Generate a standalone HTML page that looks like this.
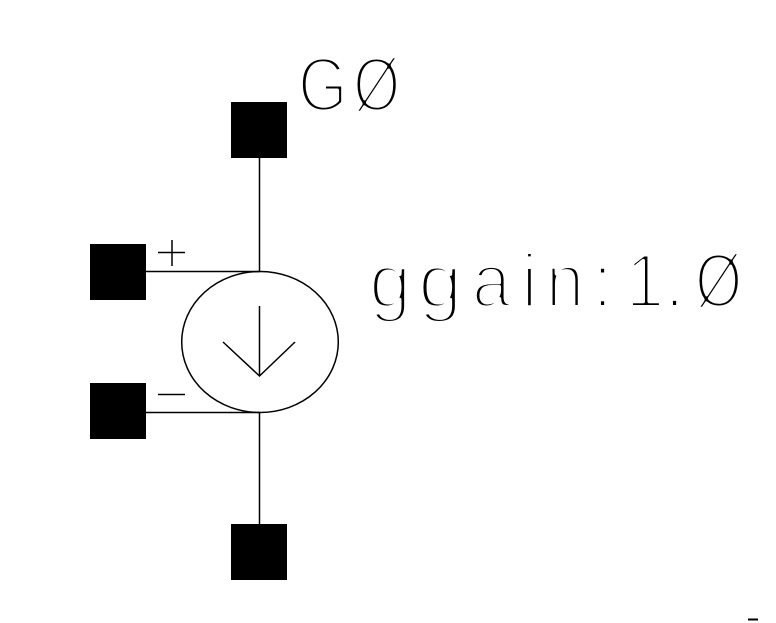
<!DOCTYPE html>
<html><head><meta charset="utf-8"><style>html,body{margin:0;padding:0;background:#fff}svg{display:block}</style></head>
<body><svg width="776" height="623" viewBox="0 0 776 623" xmlns="http://www.w3.org/2000/svg">
<rect width="776" height="623" fill="#fff"/>
<g fill="#000">
<rect x="231" y="102" width="56" height="56"/>
<rect x="90" y="244" width="56" height="56"/>
<rect x="90" y="383" width="56" height="56"/>
<rect x="231" y="524" width="56" height="56"/>
</g>
<g fill="none" stroke="#000" stroke-width="1.5">
<path d="M259.5 158V271.5M259.5 412.5V524M146 271.5H260M146 412.5H260"/>
<ellipse cx="260" cy="342" rx="78.3" ry="70.5"/>
<path d="M259.5 306V376M223 342L259.5 376L295 342"/>
<path d="M158 252.5H185M172 240V266M158 394.5H185"/>
<path d="M748 619.5H758" stroke-width="2"/>
</g>
<g font-family="'Liberation Sans',sans-serif" fill="#000" stroke="#fff" stroke-width="4" stroke-linejoin="round" font-size="76">
<text transform="translate(298 111) scale(.84 1)">G</text>
<text transform="translate(353 111) scale(.8 1)">Ø</text>
<text transform="translate(369 307) scale(1 1)">g</text>
<text transform="translate(418 307) scale(1.05 1)">g</text>
<text transform="translate(472 307) scale(.92 1)">a</text>
<text x="521" y="307">i</text>
<text transform="translate(546 307) scale(.9 1)">n</text>
<text x="592" y="307">:</text>
<text transform="translate(626 307) scale(.9 1)">1</text>
<text x="664" y="307">.</text>
<text transform="translate(695 307) scale(.8 1)">Ø</text>
</g>
</svg></body></html>
